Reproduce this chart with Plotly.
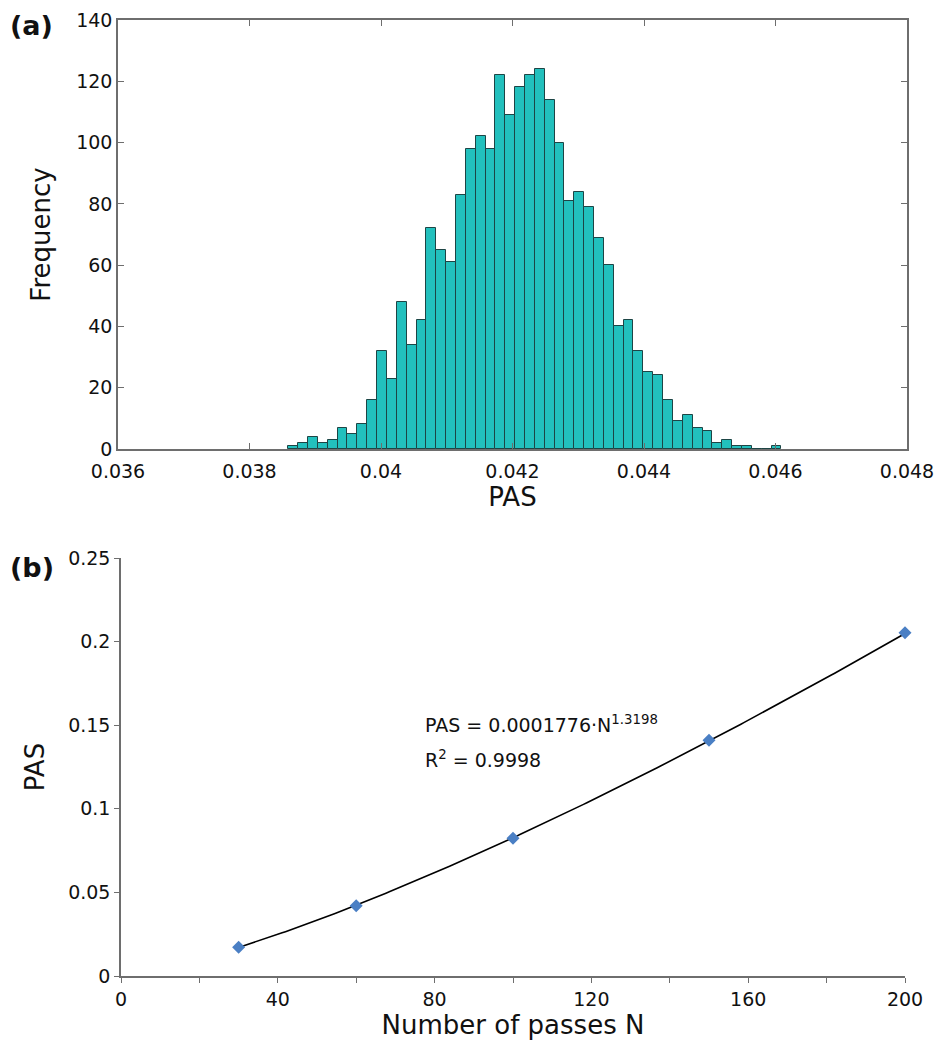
import numpy as np
import plotly.graph_objects as go

# ---- Panel (a): histogram of PAS ----
bin_start = 0.03859
bin_width = 0.00015
counts = [1, 2, 4, 2, 3, 7, 5, 8, 16, 32,
          23, 48, 34, 42, 72, 65, 61, 83, 98, 102,
          98, 122, 109, 118, 122, 124, 114, 100, 81, 84,
          79, 69, 60, 40, 42, 32, 25, 24, 16, 9,
          11, 7, 6, 2, 3, 1, 1, 0, 0, 1]
a_xticks = [0.036, 0.038, 0.040, 0.042, 0.044, 0.046, 0.048]
a_xticktext = ["0.036", "0.038", "0.04", "0.042", "0.044", "0.046", "0.048"]

# ---- Panel (b): PAS vs number of passes ----
passes = [30, 60, 100, 150, 200]
pas_values = [0.0172, 0.0420, 0.0824, 0.1410, 0.2053]
eq_text = "PAS = 0.0001776·N<sup>1.3198</sup>"
r2_text = "R<sup>2</sup> = 0.9998"

FONT = "DejaVu Sans"
AXC = "#6e6e6e"

centers = [bin_start + bin_width * (i + 0.5) for i in range(len(counts))]

fig = go.Figure()
fig.add_trace(go.Bar(
    x=centers, y=counts, width=bin_width,
    marker=dict(color="#22c0bd", line=dict(color="#1d4545", width=1)),
    xaxis="x", yaxis="y", showlegend=False, hoverinfo="skip"))

# power-law trendline fitted to the points
coef = np.polyfit(np.log(passes), np.log(pas_values), 1)
n_fit = np.linspace(min(passes), max(passes), 200)
pas_fit = np.exp(coef[1]) * n_fit ** coef[0]
fig.add_trace(go.Scatter(
    x=n_fit, y=pas_fit, mode="lines", line=dict(color="black", width=1.6),
    xaxis="x2", yaxis="y2", showlegend=False, hoverinfo="skip", cliponaxis=False))
fig.add_trace(go.Scatter(
    x=passes, y=pas_values, mode="markers", cliponaxis=False,
    marker=dict(symbol="diamond", size=10, color="#4a7fc4"),
    xaxis="x2", yaxis="y2", showlegend=False))

OFF = 8  # page body margin
W, H = 945 - OFF, 1050 - 2 * OFF
def fx(px): return (px - OFF) / W
def fy(py): return 1 - (py - OFF) / H

tickfont = dict(family=FONT, size=19, color="#111")
titlefont = dict(family=FONT, size=26, color="#111")

common = dict(automargin=False, ticklabeloverflow="allow", showgrid=False,
              zeroline=False, showline=True, linecolor=AXC, linewidth=1.5,
              tickcolor=AXC, tickfont=tickfont)

fig.update_layout(
    width=W, height=H,
    margin=dict(l=0, r=0, t=0, b=0, autoexpand=False),
    plot_bgcolor="white", paper_bgcolor="white",
    bargap=0,
    font=dict(family=FONT, color="#111"),
    xaxis=dict(domain=[fx(118), fx(907)], anchor="y", range=[0.036, 0.048],
               tickvals=a_xticks, ticktext=a_xticktext,
               mirror="ticks", ticks="inside", ticklen=6, ticklabelstandoff=4,
               title=dict(text="PAS", font=titlefont, standoff=4), **common),
    yaxis=dict(domain=[fy(449), fy(20)], anchor="x", range=[0, 140], dtick=20,
               mirror="ticks", ticks="inside", ticklen=6,
               title=dict(text="Frequency", font=titlefont, standoff=18), **common),
    xaxis2=dict(domain=[fx(121), fx(905)], anchor="y2", range=[0, 200],
                tick0=0, dtick=40,
                minor=dict(dtick=20, ticks="outside", ticklen=5, tickcolor=AXC),
                mirror=False, ticks="outside", ticklen=5,
                title=dict(text="Number of passes N", font=titlefont, standoff=6), **common),
    yaxis2=dict(domain=[fy(976), fy(558)], anchor="x2", range=[0, 0.25], dtick=0.05,
                mirror=False, ticks="outside", ticklen=5,
                title=dict(text="PAS", font=titlefont, standoff=16), **common),
    annotations=[
        dict(text="<b>(a)</b>", xref="paper", yref="paper", x=0.0, y=1.0,
             xanchor="left", yanchor="top", showarrow=False,
             font=dict(family=FONT, size=27, color="#111")),
        dict(text="<b>(b)</b>", xref="paper", yref="paper", x=0.0, y=fy(567),
             xanchor="left", yanchor="middle", showarrow=False,
             font=dict(family=FONT, size=27, color="#111")),
        dict(text=eq_text, xref="x2", yref="y2", x=77, y=0.151,
             xanchor="left", yanchor="middle", showarrow=False,
             font=dict(family=FONT, size=19, color="#111")),
        dict(text=r2_text, xref="x2", yref="y2", x=77, y=0.130,
             xanchor="left", yanchor="middle", showarrow=False,
             font=dict(family=FONT, size=19, color="#111")),
    ],
)

fig.write_html("out.html")
